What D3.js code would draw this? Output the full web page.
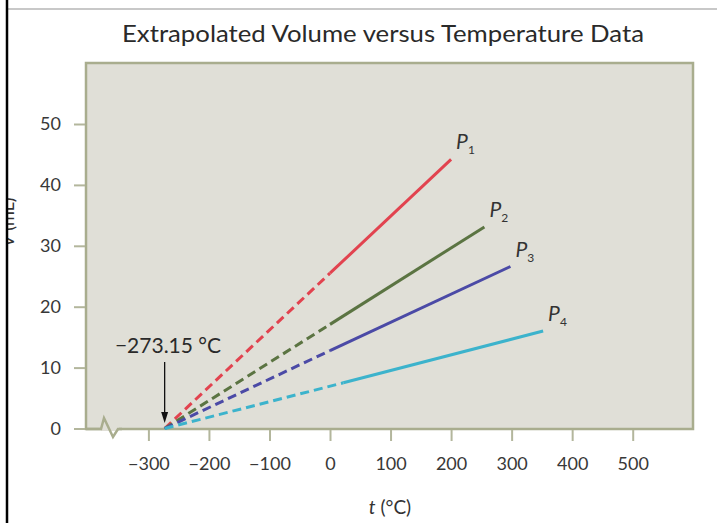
<!DOCTYPE html>
<html><head><meta charset="utf-8">
<script src="https://cdn.jsdelivr.net/npm/d3@7/dist/d3.min.js"></script>
<style>body{margin:0;background:#fff;} svg{display:block;font-family:Lato,"Open Sans",sans-serif;}</style>
</head><body>
<script>
const xTicks = [-300,-200,-100,0,100,200,300,400,500];
const yTicks = [0,10,20,30,40,50];
const seriesNames = ["P1","P2","P3","P4"];
const seriesColors = ["#e2434f","#5b7442","#4b4aa6","#3cb3cc"];
const absZero = -273.15;
const solidStart = [0,0,0,22];
const solidStartV = [25.5,17.1,12.8,7.5];
const solidEnd = [200,255,298,352];
const solidEndV = [44.2,33.1,26.6,16.0];

const W=717,H=523;
const svg=d3.select("body").append("svg").attr("width",W).attr("height",H);
const x=d3.scaleLinear().domain([-300,500]).range([148.4,632.7]);
const y=d3.scaleLinear().domain([0,50]).range([428.5,124]);
const pL=86,pR=693,pT=63,pB=429;

// top gray rule
svg.append("line").attr("x1",8).attr("x2",W).attr("y1",9).attr("y2",9).attr("stroke","#c8c8c8").attr("stroke-width",2);

// title
svg.append("text").attr("x",383).attr("y",42).attr("text-anchor","middle")
  .attr("font-size",24).attr("fill","#2a2a2a").attr("textLength",522).attr("lengthAdjust","spacingAndGlyphs")
  .text("Extrapolated Volume versus Temperature Data");

// panel
svg.append("rect").attr("x",pL).attr("y",pT).attr("width",pR-pL).attr("height",pB-pT)
  .attr("fill","#e0dfd7").attr("stroke","#a9ad8e").attr("stroke-width",2.5);
// axis break
svg.append("line").attr("x1",101).attr("x2",119).attr("y1",pB).attr("y2",pB).attr("stroke","#e0dfd7").attr("stroke-width",4);
svg.append("polyline").attr("points",[[86,pB],[101,pB],[104,418],[113,437],[118,pB],[122,pB]].map(p=>p.join(",")).join(" "))
  .attr("fill","none").attr("stroke","#a9ad8e").attr("stroke-width",2.5).attr("stroke-linejoin","miter");

// axes
const gx=svg.append("g").attr("transform",`translate(0,${pB+1})`)
  .call(d3.axisBottom(x).tickValues(xTicks).tickSize(11).tickPadding(16).tickFormat(d=>d<0?"\u2212"+Math.abs(d):d));
const gy=svg.append("g").attr("transform",`translate(${pL-1},0)`)
  .call(d3.axisLeft(y).tickValues(yTicks).tickSize(11).tickPadding(13));
[gx,gy].forEach(g=>{
  g.select(".domain").remove();
  g.selectAll(".tick line").attr("stroke","#b3b69c").attr("stroke-width",2);
  g.selectAll(".tick text").attr("font-size",18).attr("fill","#383838").attr("font-family","Lato,sans-serif");
});

// lines
seriesNames.forEach((n,i)=>{
  svg.append("line").attr("x1",x(absZero)).attr("y1",y(0)).attr("x2",x(solidStart[i])).attr("y2",y(solidStartV[i]))
    .attr("stroke",seriesColors[i]).attr("stroke-width",3).attr("stroke-dasharray","9,5");
  svg.append("line").attr("x1",x(solidStart[i])).attr("y1",y(solidStartV[i])).attr("x2",x(solidEnd[i])).attr("y2",y(solidEndV[i]))
    .attr("stroke",seriesColors[i]).attr("stroke-width",3);
  const t=svg.append("text").attr("x",x(solidEnd[i])+5).attr("y",y(solidEndV[i])-10)
    .attr("font-size",21).attr("fill","#333");
  t.append("tspan").attr("font-style","italic").text("P");
  t.append("tspan").attr("font-size",12).attr("dy",5).text(n.slice(1));
});

// annotation
svg.append("text").attr("x",168).attr("y",353).attr("text-anchor","middle").attr("font-size",21).attr("fill","#2a2a2a").text("\u2212273.15 \u00b0C");
const ax=x(absZero);
svg.append("line").attr("x1",ax).attr("x2",ax).attr("y1",362).attr("y2",414).attr("stroke","#111").attr("stroke-width",1.3);
svg.append("path").attr("d",`M${ax-3.5},412 L${ax+3.5},412 L${ax},423 Z`).attr("fill","#111");

// x label
const xl=svg.append("text").attr("x",390).attr("y",514).attr("text-anchor","middle").attr("font-size",19).attr("fill","#333");
xl.append("tspan").attr("font-style","italic").text("t");
xl.append("tspan").text(" (\u00b0C)");

// y label (mostly cut off, as in the reference)
svg.append("text").attr("transform","translate(14,222) rotate(-90)").attr("text-anchor","middle").attr("font-size",18).attr("fill","#333")
  .html('<tspan font-style="italic">V</tspan> (mL)');
svg.append("rect").attr("x",0).attr("y",0).attr("width",6).attr("height",H).attr("fill","#fff");
svg.append("line").attr("x1",7).attr("x2",7).attr("y1",0).attr("y2",H).attr("stroke","#000").attr("stroke-width",2.5);
</script>
</body></html>
